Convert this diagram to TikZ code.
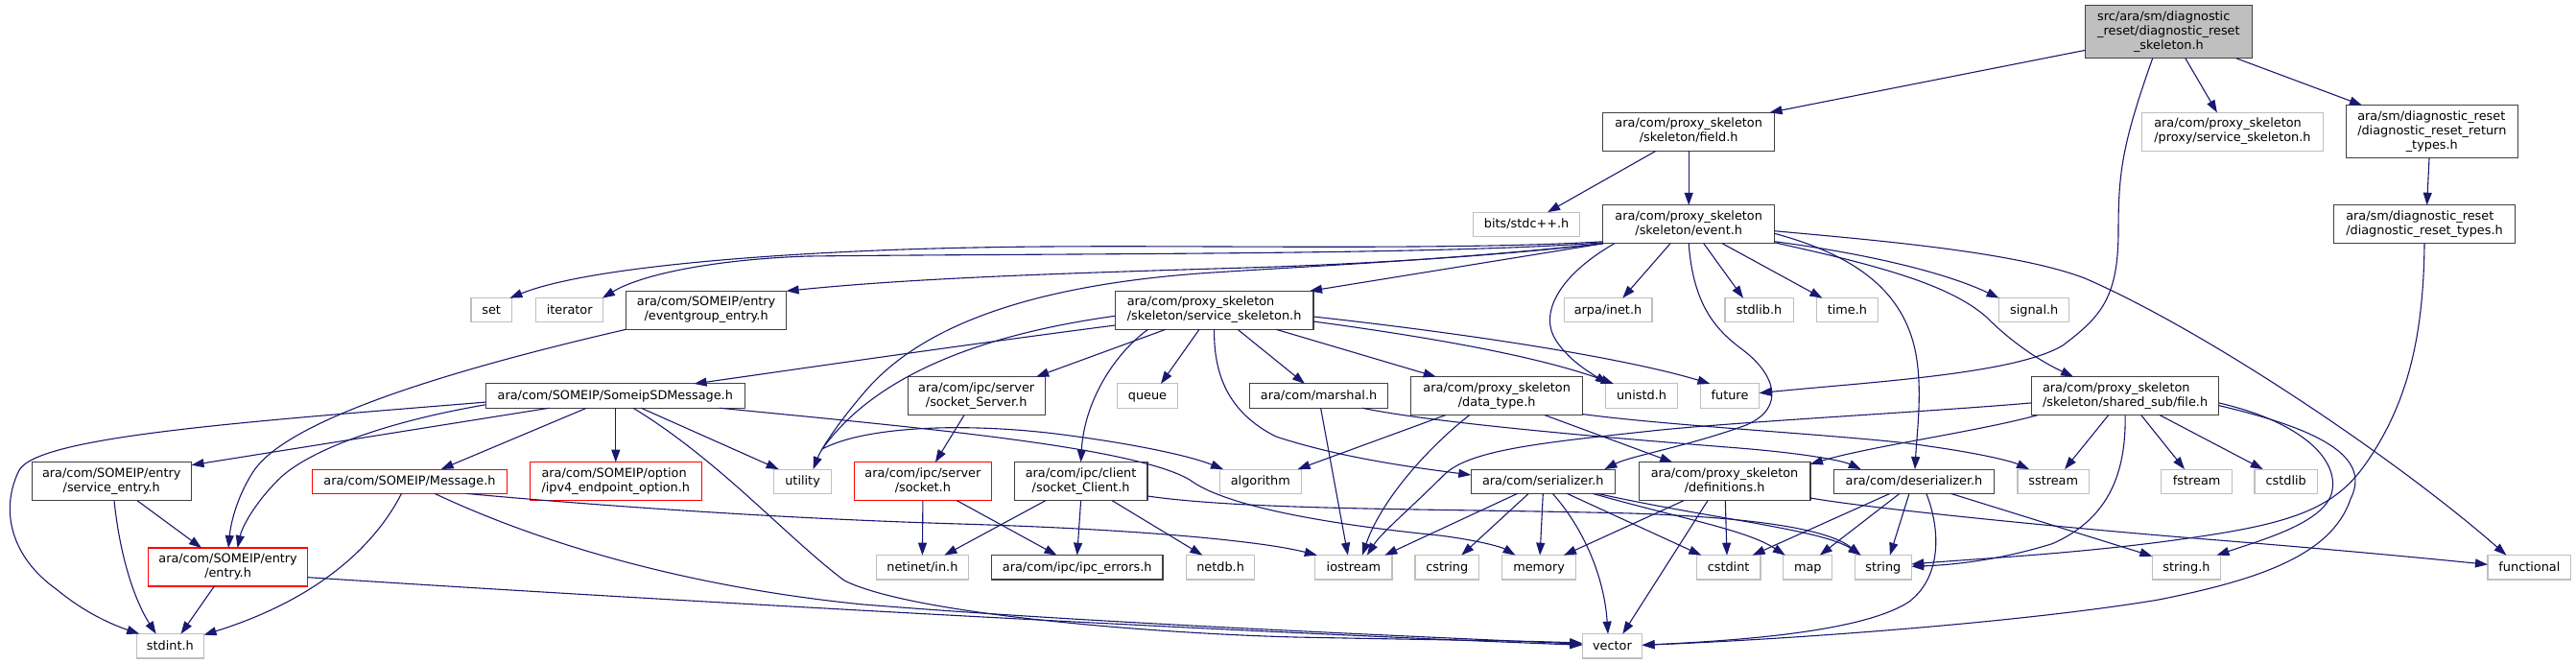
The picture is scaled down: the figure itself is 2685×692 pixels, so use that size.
\documentclass[tikz,border=0pt]{standalone}
\usepackage{fontspec}
\setmainfont{DejaVu Sans}
\usetikzlibrary{arrows.meta}
\definecolor{edgeblue}{HTML}{191970}
\definecolor{bordark}{HTML}{404040}
\definecolor{borext}{HTML}{BFBFBF}
\definecolor{borred}{HTML}{FF0000}
\definecolor{rootfill}{HTML}{BFBFBF}
\newcommand{\twol}[2]{\begin{tabular}{@{}l@{}}#1\\\multicolumn{1}{@{}c@{}}{#2}\end{tabular}}
\newcommand{\threel}[3]{\begin{tabular}{@{}l@{}}#1\\#2\\\multicolumn{1}{@{}c@{}}{#3}\end{tabular}}
\newcommand{\mknode}[6]{\node[#1,minimum width=#4pt,minimum height=#5pt] (#2) at (#3) {#6};}
\tikzset{
  nodebase/.style={draw, line width=1.1pt, fill=white, inner sep=0pt, outer sep=0pt, align=center, font=\fontsize{12.85}{15}\selectfont, text=black},
  nodedoc/.style={nodebase, draw=bordark},
  nodeext/.style={nodebase, draw=borext},
  nodered/.style={nodebase, draw=borred},
  noderoot/.style={nodebase, draw=bordark, fill=rootfill},
  oneln/.style={text height=9.5pt, text depth=1.5pt},
  dep/.style={draw=edgeblue, line width=1.1pt, -{Triangle[length=13pt,width=9pt]}}
}
\begin{document}
\begin{tikzpicture}[x=1pt,y=-1pt]
\useasboundingbox (0,0) rectangle (2685,692);
% nodes
\mknode{noderoot}{root}{2260.4,33.2}{173.5}{55}{\threel{src/ara/sm/diagnostic}{\_reset/diagnostic\_reset}{\_skeleton.h}}
\mknode{nodedoc}{field}{1760.2,137.3}{178.6}{40}{\twol{ara/com/proxy\_skeleton}{/skeleton/field.h}}
\mknode{nodeext}{proxysvc}{2326.9,137.3}{188.5}{40}{\twol{ara/com/proxy\_skeleton}{/proxy/service\_skeleton.h}}
\mknode{nodedoc}{rettypes}{2534.8,137.2}{179.1}{55}{\threel{ara/sm/diagnostic\_reset}{/diagnostic\_reset\_return}{\_types.h}}
\mknode{nodeext,oneln}{bits}{1591.1,233.8}{111}{25.3}{bits/stdc++.h}
\mknode{nodedoc}{event}{1760.2,233.8}{178.6}{40}{\twol{ara/com/proxy\_skeleton}{/skeleton/event.h}}
\mknode{nodedoc}{resettypes}{2527,233.8}{188.6}{40}{\twol{ara/sm/diagnostic\_reset}{/diagnostic\_reset\_types.h}}
\mknode{nodeext,oneln}{set}{512.2,323.3}{42.4}{25.3}{set}
\mknode{nodeext,oneln}{iterator}{593.7,323.3}{70.3}{25.3}{iterator}
\mknode{nodedoc}{evgroup}{736.1,323.3}{167}{40}{\twol{ara/com/SOMEIP/entry}{/eventgroup\_entry.h}}
\mknode{nodedoc}{svcskel}{1265.6,323.3}{206.8}{40}{\twol{ara/com/proxy\_skeleton}{/skeleton/service\_skeleton.h}}
\mknode{nodeext,oneln}{arpa}{1676,323.3}{91.9}{25.3}{arpa/inet.h}
\mknode{nodeext,oneln}{stdlib}{1833.5,323.3}{71.1}{25.3}{stdlib.h}
\mknode{nodeext,oneln}{time}{1925.4,323.3}{64.2}{25.3}{time.h}
\mknode{nodeext,oneln}{signal}{2120.2,323.3}{73.2}{25.3}{signal.h}
\mknode{nodedoc,oneln}{someipsd}{641.3,412.6}{270.5}{25.3}{ara/com/SOMEIP/SomeipSDMessage.h}
\mknode{nodedoc}{sockserver}{1017.7,412.6}{142.9}{40}{\twol{ara/com/ipc/server}{/socket\_Server.h}}
\mknode{nodeext,oneln}{queue}{1196,412.6}{62.4}{25.3}{queue}
\mknode{nodedoc,oneln}{marshal}{1374.6,412.6}{143.7}{25.3}{ara/com/marshal.h}
\mknode{nodedoc}{datatype}{1560.2,412.6}{178.6}{40}{\twol{ara/com/proxy\_skeleton}{/data\_type.h}}
\mknode{nodeext,oneln}{unistd}{1711,412.6}{74.4}{25.3}{unistd.h}
\mknode{nodeext,oneln}{future}{1803,412.6}{61.1}{25.3}{future}
\mknode{nodedoc}{fileh}{2215.1,412.6}{195}{40}{\twol{ara/com/proxy\_skeleton}{/skeleton/shared\_sub/file.h}}
\mknode{nodedoc}{svcentry}{116.3,501.7}{166.5}{40}{\twol{ara/com/SOMEIP/entry}{/service\_entry.h}}
\mknode{nodered,oneln}{message}{427,501.7}{202.5}{25.3}{ara/com/SOMEIP/Message.h}
\mknode{nodered}{ipv4}{641.8,501.7}{178.5}{40}{\twol{ara/com/SOMEIP/option}{/ipv4\_endpoint\_option.h}}
\mknode{nodeext,oneln}{utility}{836.6,501.7}{59.9}{25.3}{utility}
\mknode{nodered}{socketh}{961.9,501.7}{142.3}{40}{\twol{ara/com/ipc/server}{/socket.h}}
\mknode{nodedoc}{sockclient}{1126.6,501.7}{138.8}{40}{\twol{ara/com/ipc/client}{/socket\_Client.h}}
\mknode{nodeext,oneln}{algorithm}{1313.8,501.7}{85.5}{25.3}{algorithm}
\mknode{nodedoc,oneln}{serializer}{1608.3,501.7}{150.1}{25.3}{ara/com/serializer.h}
\mknode{nodedoc}{definitions}{1797.6,501.7}{178.7}{40}{\twol{ara/com/proxy\_skeleton}{/definitions.h}}
\mknode{nodedoc,oneln}{deserializer}{1995,501.7}{166.5}{25.3}{ara/com/deserializer.h}
\mknode{nodeext,oneln}{sstream}{2140.2,501.7}{74.5}{25.3}{sstream}
\mknode{nodeext,oneln}{fstream}{2289.6,501.7}{73.6}{25.3}{fstream}
\mknode{nodeext,oneln}{cstdlib}{2382.7,501.7}{65.5}{25.3}{cstdlib}
\mknode{nodered}{entryh}{237.6,591}{166.5}{40}{\twol{ara/com/SOMEIP/entry}{/entry.h}}
\mknode{nodeext,oneln}{netinet}{961.4,591.3}{95.4}{25.3}{netinet/in.h}
\mknode{nodedoc,oneln}{ipcerrors}{1122.7,591.3}{178.6}{25.3}{ara/com/ipc/ipc\_errors.h}
\mknode{nodeext,oneln}{netdb}{1272.1,591.3}{70.7}{25.3}{netdb.h}
\mknode{nodeext,oneln}{iostream}{1410.9,591.3}{80.2}{25.3}{iostream}
\mknode{nodeext,oneln}{cstring}{1508.3,591.3}{66.7}{25.3}{cstring}
\mknode{nodeext,oneln}{memory}{1604.1,591.3}{77.2}{25.3}{memory}
\mknode{nodeext,oneln}{cstdint}{1801.6,591.3}{66.7}{25.3}{cstdint}
\mknode{nodeext,oneln}{map}{1884.3,591.3}{51}{25.3}{map}
\mknode{nodeext,oneln}{string}{1962.9,591.3}{58.8}{25.3}{string}
\mknode{nodeext,oneln}{stringh}{2278.9,591.3}{71.1}{25.3}{string.h}
\mknode{nodeext,oneln}{functional}{2636.4,591.3}{86.9}{25.3}{functional}
\mknode{nodeext,oneln}{stdint}{177.4,673.3}{70.3}{25.3}{stdint.h}
\mknode{nodeext,oneln}{vector}{1680.4,673.3}{62.4}{25.3}{vector}
% edges from root
\draw[dep] ([yshift=-19.1pt]root.west) -- ([xshift=-5pt]field.north east);
\draw[dep] ([xshift=17.4pt]root.south) -- ([xshift=-16pt]proxysvc.north);
\draw[dep] ([xshift=70.3pt]root.south) -- ([xshift=-72.8pt]rettypes.north);
\draw[dep] ([xshift=-16.7pt]root.south) .. controls (2212,150) and (2208,180) .. (2208,240) .. controls (2208,310) and (2190,330) .. (2150,360) .. controls (2100,390) and (1950,398) .. ([yshift=3pt]future.east);
\draw[dep] ([xshift=-34.2pt]field.south) -- ([xshift=22pt]bits.north);
\draw[dep] (field.south) -- (event.north);
\draw[dep] ([xshift=-2.8pt]rettypes.south) -- ([xshift=2.6pt]resettypes.north);
\draw[dep] (resettypes.south) .. controls (2526,350) and (2510,420) .. (2466,483) .. controls (2430,535) and (2380,548) .. (2251,565) .. controls (2150,578) and (2050,583) .. ([yshift=3.3pt]string.east);
% file.h
\draw[dep] (fileh.south) .. controls (2216,490) and (2200,540) .. (2139,566.7) .. controls (2080,585) and (2030,589) .. ([yshift=1pt]string.east);
\draw[dep] ([yshift=-7.3pt]fileh.east) .. controls (2400,440) and (2440,480) .. (2430,515) .. controls (2420,545) and (2360,562) .. ([xshift=-4pt]stringh.north east);
\draw[dep] ([yshift=-10pt]fileh.east) .. controls (2430,450) and (2470,480) .. (2450,520) .. controls (2430,580) and (2350,605) .. (2250,625) .. controls (2100,650) and (1850,667) .. ([yshift=1pt]vector.east);
\draw[dep] ([xshift=-17.4pt]fileh.south) -- ([xshift=11.8pt]sstream.north);
\draw[dep] ([xshift=16.6pt]fileh.south) -- ([xshift=-12.6pt]fstream.north);
\draw[dep] ([xshift=36pt]fileh.south) -- ([xshift=-24pt]cstdlib.north);
\draw[dep] ([xshift=6.4pt]fileh.south west) .. controls (2060,450) and (1950,465) .. ([yshift=-2pt]definitions.north east);
\draw[dep] ([yshift=-7.3pt]fileh.west) .. controls (2000,430) and (1800,440) .. (1713,450) .. controls (1600,462) and (1530,470) .. (1505,495) .. controls (1470,530) and (1440,555) .. ([xshift=14pt]iostream.north);
% event.h
\draw[dep] ([xshift=12.8pt]deserializer.south) .. controls (2022,550) and (2025,600) .. (1990,627) .. controls (1940,660) and (1800,668) .. ([yshift=1pt]vector.east);
\draw[dep] ([yshift=-6.9pt]event.east) .. controls (1950,250) and (2100,262) .. (2173,290) .. controls (2300,345) and (2500,480) .. ([xshift=-24pt]functional.north);
\draw[dep] ([yshift=-17.3pt]definitions.east) .. controls (1950,530) and (2150,550) .. (2300,562) .. controls (2450,574) and (2550,584) .. ([yshift=3pt]functional.west);
\draw[dep] ([yshift=-17.9pt]event.east) .. controls (1950,265) and (2030,285) .. (signal.north west);
\draw[dep] ([yshift=1pt]event.south east) .. controls (1950,275) and (2030,295) .. (2070,330) .. controls (2100,360) and (2130,378) .. ([xshift=-54pt]fileh.north);
\draw[dep] ([yshift=-9.5pt]event.east) .. controls (1930,265) and (1980,300) .. (1995,360) .. controls (2005,400) and (1998,450) .. ([xshift=1pt]deserializer.north);
\draw[dep] (event.south) .. controls (1765,320) and (1790,345) .. (1817,365) .. controls (1850,390) and (1862,425) .. (1820,443) .. controls (1760,465) and (1700,475) .. ([xshift=-11pt]serializer.north east);
\draw[dep] ([xshift=-77.6pt]event.south) .. controls (1620,290) and (1605,330) .. (1622,355) .. controls (1635,375) and (1655,387) .. ([xshift=2pt]unistd.north west);
\draw[dep] ([xshift=-19.2pt]event.south) -- ([xshift=15.3pt]arpa.north);
\draw[dep] ([xshift=15.6pt]event.south) -- ([xshift=-16.5pt]stdlib.north);
\draw[dep] ([xshift=35.1pt]event.south) -- ([xshift=-26pt]time.north);
\draw[dep] (event.south west) -- ([xshift=-4pt]svcskel.north east);
\draw[dep] ([yshift=2pt]event.south west) .. controls (1500,262) and (1200,254) .. (1017,258) .. controls (850,261) and (620,275) .. ([xshift=-2pt]set.north east);
\draw[dep] ([yshift=1pt]event.south west) .. controls (1500,266) and (1100,264) .. (843,267) .. controls (750,270) and (670,285) .. ([xshift=-1pt]iterator.north east);
\draw[dep] (event.south west) .. controls (1550,268) and (1400,276) .. (1300,279) .. controls (1100,285) and (950,290) .. (evgroup.north east);
\draw[dep] (event.south west) .. controls (1500,272) and (1350,278) .. (1250,285) .. controls (1050,300) and (950,350) .. (900,410) .. controls (870,445) and (855,470) .. ([xshift=11pt]utility.north);
% service_skeleton
\draw[dep] ([yshift=-15.7pt]svcskel.west) .. controls (1000,360) and (850,382) .. ([xshift=-53pt]someipsd.north east);
\draw[dep] ([yshift=-6pt]svcskel.west) .. controls (1050,345) and (920,380) .. (857,468) .. controls (900,445) and (1000,440) .. (1100,452) .. controls (1180,462) and (1240,475) .. ([xshift=4pt]algorithm.north west);
\draw[dep] ([xshift=-50.6pt]svcskel.south) -- ([xshift=-9pt]sockserver.north east);
\draw[dep] ([xshift=-69pt]svcskel.south) .. controls (1160,370) and (1130,420) .. (sockclient.north);
\draw[dep] ([xshift=-15.6pt]svcskel.south) -- ([xshift=14pt]queue.north);
\draw[dep] (svcskel.south) .. controls (1265,390) and (1280,430) .. (1330,455) .. controls (1400,478) and (1480,488) .. ([yshift=6.7pt]serializer.west);
\draw[dep] ([xshift=24.4pt]svcskel.south) -- ([xshift=-14.6pt]marshal.north);
\draw[dep] ([xshift=-39pt]svcskel.south east) -- ([xshift=25.8pt]datatype.north west);
\draw[dep] ([yshift=-11.7pt]svcskel.east) .. controls (1480,350) and (1600,370) .. ([xshift=8pt]unistd.north west);
\draw[dep] ([yshift=-6.7pt]svcskel.east) .. controls (1550,350) and (1700,375) .. ([xshift=10pt]future.north west);
% SomeipSDMessage
\draw[dep] ([yshift=-6.5pt]someipsd.west) .. controls (250,440) and (40,455) .. (20,490) .. controls (0,530) and (10,580) .. (60,615) .. controls (90,640) and (120,652) .. ([xshift=3pt]stdint.north west);
\draw[dep] ([yshift=-9.2pt]someipsd.west) .. controls (400,440) and (320,470) .. (290,500) .. controls (265,525) and (252,550) .. ([xshift=10pt]entryh.north);
\draw[dep] (evgroup.south west) .. controls (450,390) and (300,440) .. (265,490) .. controls (245,520) and (240,550) .. ([xshift=0.5pt]entryh.north);
\draw[dep] ([xshift=-68.9pt]someipsd.south) -- ([yshift=-3pt]svcentry.north east);
\draw[dep] ([xshift=-29.9pt]someipsd.south) -- ([xshift=32.7pt]message.north);
\draw[dep] ([xshift=0.5pt]someipsd.south) -- (ipv4.north);
\draw[dep] ([xshift=27pt]someipsd.south) -- ([xshift=5pt]utility.north west);
\draw[dep] ([xshift=18.7pt]someipsd.south) .. controls (750,480) and (820,560) .. (880,605) .. controls (950,640) and (1200,660) .. (1350,664) .. controls (1500,667) and (1600,668) .. ([yshift=3pt]vector.west);
\draw[dep] ([xshift=-26.5pt]someipsd.south east) .. controls (950,445) and (1180,465) .. (1240,500) .. controls (1280,530) and (1400,548) .. (1500,558) .. controls (1540,563) and (1565,570) .. ([xshift=14pt]memory.north west);
% Message.h, entry.h, service_entry.h
\draw[dep] ([xshift=-8.5pt]message.south) .. controls (390,570) and (330,625) .. ([yshift=-1pt]stdint.north east);
\draw[dep] ([xshift=26pt]message.south) .. controls (550,560) and (700,610) .. (900,630) .. controls (1150,650) and (1450,662) .. ([yshift=2pt]vector.west);
\draw[dep] ([xshift=58.7pt]message.south) .. controls (600,525) and (800,540) .. (1000,546) .. controls (1200,552) and (1320,565) .. ([xshift=2pt]iostream.north west);
\draw[dep] ([xshift=-14.3pt]entryh.south) -- ([xshift=11.2pt]stdint.north);
\draw[dep] ([yshift=-10.7pt]entryh.east) .. controls (600,620) and (1200,655) .. ([yshift=1pt]vector.west);
\draw[dep] ([xshift=26.7pt]svcentry.south) -- ([xshift=-27.6pt]entryh.north);
\draw[dep] ([xshift=2.7pt]svcentry.south) .. controls (125,580) and (140,625) .. ([xshift=-14.8pt]stdint.north);
% ipc
\draw[dep] ([xshift=-12.7pt]sockserver.south) -- ([xshift=13pt]socketh.north);
\draw[dep] (socketh.south) -- (netinet.north);
\draw[dep] ([xshift=35.5pt]socketh.south) -- ([xshift=-21.2pt]ipcerrors.north);
\draw[dep] ([xshift=-36.8pt]sockclient.south) -- ([xshift=23pt]netinet.north);
\draw[dep] (sockclient.south) -- (ipcerrors.north);
\draw[dep] ([xshift=32.6pt]sockclient.south) -- ([xshift=-18.8pt]netdb.north);
\draw[dep] ([yshift=-15.3pt]sockclient.east) .. controls (1300,532) and (1500,530) .. (1700,535) .. controls (1850,540) and (1910,555) .. ([xshift=6pt]string.north west);
% marshal, data_type
\draw[dep] ([xshift=2pt]marshal.south) -- ([xshift=-6pt]iostream.north);
\draw[dep] ([xshift=45.4pt]marshal.south) .. controls (1500,442) and (1700,458) .. (1800,466) .. controls (1880,472) and (1920,480) .. ([xshift=28pt]deserializer.north west);
\draw[dep] ([xshift=-53.5pt]datatype.south) -- ([xshift=-4pt]algorithm.north east);
\draw[dep] ([xshift=-28.5pt]datatype.south) .. controls (1490,465) and (1440,520) .. ([xshift=9pt]iostream.north);
\draw[dep] ([xshift=49.8pt]datatype.south) -- ([xshift=35pt]definitions.north west);
\draw[dep] ([yshift=1pt]datatype.south east) .. controls (1750,445) and (1950,455) .. (2010,465) .. controls (2060,472) and (2095,480) .. ([xshift=12pt]sstream.north west);
% serializer
\draw[dep] ([xshift=-26.6pt]serializer.south) -- ([xshift=-7.7pt]iostream.north east);
\draw[dep] ([xshift=-15pt]serializer.south) -- ([xshift=15pt]cstring.north);
\draw[dep] (serializer.south) -- ([xshift=1pt]memory.north);
\draw[dep] ([xshift=10pt]serializer.south) .. controls (1650,550) and (1672,600) .. ([xshift=-4.4pt]vector.north);
\draw[dep] ([xshift=25pt]serializer.south) -- ([xshift=5pt]cstdint.north west);
\draw[dep] ([xshift=51.7pt]serializer.south) .. controls (1750,540) and (1820,552) .. ([xshift=2pt]map.north west);
\draw[dep] ([xshift=56.7pt]serializer.south) .. controls (1780,540) and (1900,552) .. ([xshift=6pt]string.north west);
% definitions
\draw[dep] ([xshift=-42.6pt]definitions.south) -- ([xshift=-12.7pt]memory.north east);
\draw[dep] ([xshift=-17.6pt]definitions.south) -- ([xshift=-20.3pt]vector.north east);
\draw[dep] ([xshift=0.7pt]definitions.south) -- ([xshift=-1.6pt]cstdint.north);
% deserializer
\draw[dep] ([xshift=-25pt]deserializer.south) -- ([xshift=-8.3pt]cstdint.north east);
\draw[dep] ([xshift=-15pt]deserializer.south) -- ([xshift=-13pt]map.north east);
\draw[dep] ([xshift=-5pt]deserializer.south) -- ([xshift=7pt]string.north);
\draw[dep] ([xshift=-45pt]deserializer.south east) -- ([yshift=-1pt]stringh.north west);
\end{tikzpicture}
\end{document}
